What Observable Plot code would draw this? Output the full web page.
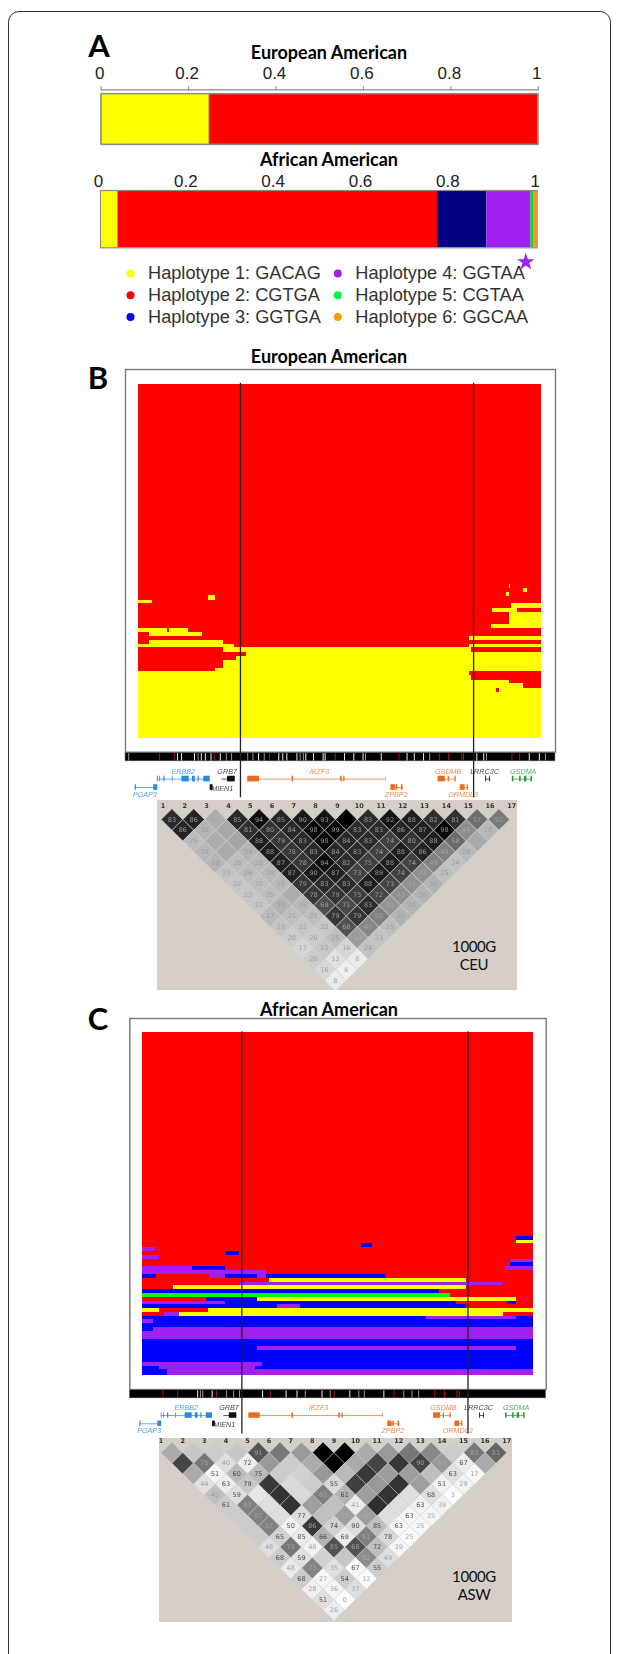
<!DOCTYPE html>
<html>
<head>
<meta charset="utf-8">
<script src="https://cdn.jsdelivr.net/npm/d3@7"></script>
<script src="https://cdn.jsdelivr.net/npm/@observablehq/plot@0.6"></script>
<style>
html,body{margin:0;padding:0;background:#fff;}
#page{position:relative;width:625px;height:1654px;overflow:hidden;background:#fff;}
#card{position:absolute;left:8px;top:11px;width:603px;height:1700px;border:1px solid #333;border-radius:11px;box-sizing:border-box;}
#page svg{position:absolute;background:transparent;max-width:none;}
.t{position:absolute;transform:translate(-50%,-50%);white-space:nowrap;color:#000;font-family:Lato,sans-serif;}
.title{font-weight:700;font-size:18px;}
.letter{font-weight:700;font-size:31px;}
.note{font-size:15px;color:#111;text-align:center;line-height:18px;letter-spacing:-.4px;}
</style>
</head>
<body>
<div id="page"><div id="card"></div></div>
<script>
// ---------- Panel A: haplotype frequencies ----------
const hapNames = ["Haplotype 1: GACAG","Haplotype 2: CGTGA","Haplotype 3: GGTGA","Haplotype 4: GGTAA","Haplotype 5: CGTAA","Haplotype 6: GGCAA"];
const hapDots  = ["#ffff00","#ff0000","#0000ff","#a020f0","#00ff40","#ff9900"];
const hapFills = ["#ffff00","#ff0000","#0000ff","#a020f0","#00ff00","#ff9900"];
const barFills = ["#ffff00","#ff0000","#000080","#a020f0","#00e020","#ff9900"];
const freqEur = [0.248,0.752];
const freqAfr = [0.04,0.732,0.113,0.101,0.007,0.007];
const freqTicks = [0,0.2,0.4,0.6,0.8,1];

// ---------- Panels B/C: sorted haplotype runs [rowFrom,rowTo,posFrom,posTo,haplotype], in % ----------
const runsEur = [
 [0,100,0,100,2],[74.5,100,0,100,1],
 [59.8,61.2,17.4,19.2,1],[61.2,62.1,0,3.6,1],[69.1,70.1,0,7.2,1],[69.1,70.1,7.8,12.6,1],[70.1,71.2,2.9,15.9,1],
 [72.3,73.6,2.9,21.1,1],[73.6,74.5,0,24,1],
 [74.5,75.8,0,21.2,2],[75.8,76.9,0,26.8,2],[76.9,78.1,0,24.4,2],[78.1,80.3,0,21.2,2],[80.3,81.3,0,19.2,2],
 [56.5,57.7,92,92.3,1],[58.8,59.9,91.3,92.1,1],[57.7,58.8,95.6,96.5,1],[62.1,63.3,92.7,100,1],[63.3,64.5,88,94.1,1],
 [64.5,68,92.1,100,1],[68,69.1,87.6,100,1],[71.3,72.3,82.2,100,1],[73.6,74.5,82.2,100,1],
 [74.5,75.7,82.8,100,2],[81.3,82.4,82.2,100,2],[82.4,83.6,82.6,100,2],[83.6,84.7,92.1,100,2],[84.7,86,95.6,100,2],[86,87.1,88.8,89.7,2]
];
const runsAfr = [
 [0,100,0,100,2],
 [61.4,62.6,56.1,58.9,3],[59.3,60.4,95.7,100,3],[60.4,61.4,95.7,100,1],[62.6,63.7,0,3.3,4],[63.7,64.8,21.3,24.9,3],[64.8,66,0,4.3,4],
 [66,67,94,100,4],[67,68.2,94,100,3],
 [68.2,69.4,0,12.8,4],[68.2,69.4,12.8,21.2,3],[68.2,69.4,92.8,100,4],[69.4,70.4,0,31.7,4],
 [70.4,71.5,0,3.7,3],[70.4,71.5,17.2,21.2,4],[70.4,71.5,21.2,29.3,3],[70.4,71.5,29.3,31.7,4],[70.4,71.5,31.7,62.5,3],
 [71.5,72.7,32.5,82.8,1],[72.7,73.7,25,92.3,4],[73.7,74.9,7.8,82.8,1],[74.9,76,0,76,3],[76,77.1,0,78.7,5],
 [77.1,78.2,16.4,29.5,3],[77.1,78.2,29.5,95.7,1],
 [78.2,79.3,0,21.3,4],[78.2,79.3,21.3,80.2,3],[78.2,79.3,93.4,95.6,3],
 [79.3,80.3,0,34.4,3],[79.3,80.3,34.4,40.4,4],[79.3,80.3,40.4,82.8,3],
 [80.3,81.5,0,4.3,1],[80.3,81.5,16.9,100,1],
 [81.5,82.7,5.5,9.5,4],[81.5,82.7,9.5,92.3,1],
 [82.7,83.7,0,72.6,3],[82.7,83.7,72.6,95.6,4],[82.7,83.7,95.6,100,3],
 [83.7,84.8,0,2.7,4],[83.7,84.8,2.7,100,3],[84.8,86,0,100,3],
 [86,87.2,0,2.7,3],[86,87.2,2.7,100,4],[87.2,89.4,0,100,4],[89.4,91.6,0,100,3],
 [91.6,92.7,0,29.4,3],[91.6,92.7,29.4,95.6,4],[91.6,92.7,95.6,100,3],[92.7,96,0,100,3],
 [96,97.2,0,30.6,4],[96,97.2,30.6,100,3],
 [97.2,98.2,0,4.3,3],[97.2,98.2,4.3,28.9,4],[97.2,98.2,28.9,100,3],
 [98.2,100,0,6.3,3],[98.2,100,6.3,100,4]
];
const blockEdges = [25.4,83.2];

// SNP density stripe positions
const snpRedEur  = [5.3,9.0,18.9,32.6,48.9,64.7,74.7,77,80.3,80.7,92.7,94.6];
const snpGrayEur = [-2.3,14.9,21.9,23.2,28.5,40.2,41,56.4,72.3,27.2,31.3,86.4,101];
const snpWhiteEur= [9.8,10.8,14,15.7,16.7,18.1,20.4,29.9,34.9,35.9,36.9,39.4,41.6,43.5,45.9,46.4,51.2,53.5,55.8,60.3,66.7,68.5,70.8,84,85.7,97,99.5];
const snpRedAfr  = [5.2,9,18.9,32.7,49,64.3,74.7,77.2,80.4,81];
const snpGrayAfr = [14.8,15.4,21.5,23.3,24.8,41.6,55.3,56.7,66.8,68.9,70.6,48];
const snpWhiteAfr= [14.1,17.8,30.7,36.7,39.5,45.9,53,61.7];

// Genes: name, span, track row, colour, label centre
const geneNames  = ["ERBB2","GRB7","IKZF3","GSDMB","LRRC3C","GSDMA","PGAP3","MIEN1","ZPBP2","ORMDL3"];
const geneStart  = [4.8,20.8,27.1,74.4,86.2,92.8,-0.7,17.9,62.7,79.7];
const geneEnd    = [17.9,24.1,61.6,79,87.4,97.8,4.9,18.6,65.8,82];
const geneRow    = [0,0,0,0,0,0,1,1,1,1];
const geneColors = ["#2a8ae0","#111111","#ee6a1e","#ee6a1e","#111111","#2f9a3a","#2a8ae0","#111111","#ee6a1e","#ee6a1e"];
const geneLabelX = [11.2,22.1,45,76.9,85.9,95.5,1.7,20.9,64,80.6];
const exonGene   = [0,0,0,0,0,0,0,0, 1, 2,2,2,2,2, 3,3,3, 4,4, 5,5,5,5, 6,6, 7, 8,8,8, 9,9];
const exonStart  = [4.8,5.4,6.4,8.5,10.9,13.5,14.9,16.3, 22.2, 27.2,38.2,50.2,51,61.5, 74.4,76.9,78.6, 86.2,87.2, 92.8,94.6,95.8,97.4, -0.7,3.9, 17.9, 62.7,64,65.3, 79.9,81.6];
const exonEnd    = [5,5.6,6.7,8.7,12.7,14.2,15.2,17.9, 24.1, 30.1,38.6,50.6,51.3,61.6, 76.2,77.2,78.9, 86.4,87.4, 93.2,95,96.4,97.8, -0.4,4.9, 18.6, 63.8,64.4,65.7, 81.1,81.9];

// ---------- LD triangles ----------
const snpLabels = d3.range(1,18);
const ldEur = [
 [83,86,32,85,94,85,90,93,100,83,92,88,82,81,57,52],
 [86,30,34,81,80,84,98,99,83,83,86,87,98,44,28],
 [26,32,35,88,79,83,98,84,83,74,80,88,58,33],
 [28,33,29,88,78,83,84,83,74,88,86,49,28],
 [29,26,28,87,78,94,82,75,88,74,49,24],
 [23,26,28,87,90,87,73,89,74,43,25],
 [22,25,28,79,83,83,88,73,43,30],
 [22,25,32,78,79,75,72,43,30],
 [22,30,28,69,71,83,42,30],
 [27,25,25,79,79,50,30],
 [23,22,22,68,47,25],
 [20,20,25,39,23],
 [17,22,16,24],
 [20,12,8],
 [16,6],
 [8]
];
const ldAfrShade = [
 [33,22,20,22,67,53,40,100,100,33,40,53,47,20,53,60],
 [73,53,13,7,40,20,33,100,33,73,78,73,40,7,33],
 [33,4,27,27,20,18,40,27,78,38,38,25,12,3],
 [12,7,22,78,15,20,15,75,40,80,38,5,5],
 [25,13,10,80,15,50,30,38,80,13,12,2],
 [20,50,13,80,38,25,7,82,13,5,5],
 [20,50,13,13,25,38,38,13,4,4],
 [20,50,5,78,18,13,25,3,3],
 [20,18,8,30,8,50,15,2],
 [13,53,5,68,68,25,4],
 [20,12,18,22,45,13],
 [8,48,12,2,20],
 [20,3,20,2],
 [6,4,13],
 [12,1],
 [7]
];
const ldAfrLabel = [
 [null,null,null,null,91,null,null,null,null,null,null,null,null,null,83,81],
 [null,75,40,72,null,null,null,null,null,null,null,90,93,67,60],
 [null,51,60,75,null,null,null,null,null,null,null,null,63,17],
 [44,63,79,null,null,null,55,null,null,null,76,51,29],
 [43,59,null,null,null,63,61,null,null,null,68,3],
 [61,87,null,null,78,null,41,null,null,63,39],
 [null,87,null,77,null,79,66,null,63,25],
 [null,87,50,86,74,90,85,63,25],
 [null,65,85,66,69,61,78,25],
 [48,75,48,85,68,72,39],
 [68,59,null,null,82,49],
 [48,73,35,67,55],
 [68,27,54,12],
 [28,36,37],
 [51,0],
 [26]
];

const page = document.getElementById("page");
const sans = "Liberation Sans, Arial, sans-serif";
function put(svg,left,top){svg.style.left=left+"px";svg.style.top=top+"px";page.appendChild(svg);return svg;}
function label(text,cls,x,y){const d=document.createElement("div");d.className="t "+cls;d.innerHTML=text;d.style.left=x+"px";d.style.top=y+"px";page.appendChild(d);}

// ---------- frequency bars ----------
function freqBar({values,left,right,top,barTop,barBottom,ruled,dx}){
  const rows=values.map((v,i)=>({hap:i,share:v}));
  const h=barBottom-top+2;
  return put(Plot.plot({
    width:625,height:h,marginLeft:left,marginRight:625-right,marginTop:barTop-top,marginBottom:2,
    style:{background:"transparent",overflow:"visible"},
    x:{domain:[0,1],axis:null,label:null},
    marks:[
      Plot.barX(rows,{x:"share",fill:d=>barFills[d.hap],stroke:ruled?"#8f8f60":"none",strokeWidth:.8}),
      Plot.frame({stroke:"#8a8a8a",strokeWidth:1.2}),
      ruled?Plot.frame({anchor:"top",dy:-4,stroke:"#8a8a8a",strokeWidth:1.2}):null,
      ruled?Plot.axisX(freqTicks,{anchor:"top",label:null,tickSize:4,dy:-4,fill:"none",stroke:"#8a8a8a",tickFormat:d=>String(d)}):null,
      Plot.axisX(freqTicks,{anchor:"top",label:null,tickSize:0,tickPadding:ruled?15:3,dx:dx,fontSize:17,fontFamily:sans,fill:"#222",tickFormat:d=>String(d)})
    ]
  }),0,top);
}
freqBar({values:freqEur,left:100.7,right:537.7,top:58,barTop:93.3,barBottom:144,ruled:true,dx:-1.5});
freqBar({values:freqAfr,left:100,right:536.7,top:165,barTop:190,barBottom:247.3,ruled:false,dx:-2});

// ---------- legend ----------
const legendRows=hapNames.map((name,i)=>({name,col:i<3?0:1,row:i%3,i}));
put(Plot.plot({
  width:625,height:80,margin:0,
  style:{background:"transparent",overflow:"visible"},
  x:{domain:[0,1],range:[130,337.3],axis:null},
  y:{domain:[0,2],range:[18,61.5],axis:null},
  marks:[
    Plot.dot(legendRows,{x:"col",y:"row",r:4,fill:d=>hapDots[d.i]}),
    Plot.text(legendRows,{x:"col",y:"row",text:"name",dx:17.5,textAnchor:"start",fontSize:18.2,fontFamily:sans,fill:"#333"}),
    Plot.dot(legendRows.filter(d=>d.i===3),{x:"col",y:"row",dx:188,dy:-11.5,r:5.5,symbol:"star",fill:"#a020f0"})
  ]
}),0,255);

// ---------- haplotype panel with stripe and gene track ----------
function haploPanel({runs,frameL,frameR,frameT,frameB,xDomain,snpRed,snpGray,snpWhite,yBottom}){
  const geneRows=geneNames.map((name,i)=>({name,start:geneStart[i],end:geneEnd[i],row:geneRow[i],color:geneColors[i],at:geneLabelX[i]}));
  const exons=exonGene.map((g,i)=>({color:geneColors[g],row:geneRow[g],start:exonStart[i],end:exonEnd[i]}));
  const geneY=[111.6,114],labelY=[109.4,116];
  const soft="blur(0.5px)";
  const below=48;
  const span=frameB-frameT;
  return put(Plot.plot({
    width:625,height:span+below+2,marginLeft:frameL,marginRight:625-frameR,marginTop:2,marginBottom:below,
    style:{background:"transparent",overflow:"visible"},
    x:{domain:xDomain,axis:null},
    y:{domain:[-4.2,104],reverse:true,axis:null},
    marks:[
      Plot.frame({stroke:"#777",strokeWidth:1.4,fill:"#fff"}),
      Plot.rect(runs,{x1:d=>d[2],x2:d=>d[3],y1:d=>d[0],y2:d=>d[1],fill:d=>hapFills[d[4]-1],shapeRendering:"crispEdges"}),
      Plot.rect([0],{x1:xDomain[0],x2:xDomain[1],y1:104.2,y2:106.6,fill:"#000",stroke:"#888",strokeWidth:.5}),
      Plot.ruleX(snpGray,{x:d=>d,y1:104.4,y2:106.5,stroke:"#999",strokeWidth:1}),
      Plot.ruleX(snpWhite,{x:d=>d,y1:104.4,y2:106.5,stroke:"#eee",strokeWidth:1}),
      Plot.ruleX(snpRed,{x:d=>d,y1:104.4,y2:106.5,stroke:"#b01010",strokeWidth:1}),
      Plot.ruleY(geneRows.filter(d=>d.name!=="MIEN1"),{x1:"start",x2:"end",y:d=>geneY[d.row],stroke:"color",strokeWidth:.9,strokeOpacity:.8}),
      Plot.rect(exons,{x1:"start",x2:"end",y1:d=>geneY[d.row]-.8,y2:d=>geneY[d.row]+.8,fill:"color",imageFilter:soft}),
      Plot.text(geneRows,{x:"at",y:d=>d.name==="MIEN1"?geneY[1]+.2:labelY[d.row],text:"name",fill:"color",fontSize:7.2,fontStyle:"italic",fontFamily:sans,fillOpacity:.8,imageFilter:soft}),
      Plot.ruleX(blockEdges,{x:d=>d,y1:-.3,y2:yBottom,stroke:"#222",strokeWidth:1.3})
    ]
  }),0,frameT-2);
}
haploPanel({runs:runsEur,frameL:125,frameR:555,frameT:369,frameB:751.7,xDomain:[-3.1,103.5],snpRed:snpRedEur,snpGray:snpGrayEur,snpWhite:snpWhiteEur,yBottom:116.9});
haploPanel({runs:runsAfr,frameL:129.3,frameR:545.7,frameT:1018.3,frameB:1389.3,xDomain:[-3.25,103.2],snpRed:snpRedAfr,snpGray:snpGrayAfr,snpWhite:snpWhiteAfr,yBottom:117});

// ---------- LD triangle ----------
function ldPanel({shade,labels,left,top,width,height,x1,x17,y1,y16,labelDy,labelDx}){
  const cells=[];
  shade.forEach((row,k)=>row.forEach((v,i)=>{
    const d=k+1;
    cells.push({pos:i+1+d/2,sep:d,shade:v,text:labels?labels[k][i]:(v===100?null:v)});
  }));
  const diamond={draw(ctx,size){const r=Math.sqrt(size/Math.PI);ctx.moveTo(0,-r);ctx.lineTo(r,0);ctx.lineTo(0,r);ctx.lineTo(-r,0);ctx.closePath();}};
  return put(Plot.plot({
    width,height,margin:0,
    style:{background:"#d5cfc8",overflow:"hidden"},
    x:{domain:[1,17],range:[x1-left,x17-left],axis:null},
    y:{domain:[1,16],range:[y1-top,y16-top],axis:null},
    color:{type:"linear",domain:[0,100],range:["#ffffff","#000000"]},
    marks:[
      Plot.dot(cells,{x:"pos",y:"sep",r:10.7,symbol:diamond,fill:"shade",stroke:"#d0d0d0",strokeWidth:.5,imageFilter:"blur(0.5px)"}),
      Plot.text(cells.filter(d=>d.text!==null),{x:"pos",y:"sep",text:d=>String(d.text),fontSize:6.5,fontFamily:"DejaVu Sans",
        fill:d=>d.shade>30?"#a8a8a8":(labels&&d.text>=50?"#333":"#999"),fillOpacity:.85,imageFilter:"blur(0.45px)"}),
      Plot.text(snpLabels,{x:d=>d,frameAnchor:"top",dy:labelDy,dx:labelDx,text:d=>String(d),fontSize:6.5,fontWeight:"bold",fontFamily:"DejaVu Sans",fill:"#333",imageFilter:"blur(0.3px)"})
    ]
  }),left,top);
}
ldPanel({shade:ldEur,left:157.3,top:800,width:359.4,height:190,x1:160.8,x17:509.6,y1:819,y16:980,labelDy:3,labelDx:2});
ldPanel({shade:ldAfrShade,labels:ldAfrLabel,left:159.3,top:1437.7,width:353,height:184,x1:160.9,x17:506.5,y1:1452,y16:1609.3,labelDy:0,labelDx:0});

// ---------- titles ----------
label("A","letter",99,45);
label("B","letter",98,377);
label("C","letter",98,1018);
label("European American","title",329,52);
label("African American","title",329,159);
label("European American","title",329,356);
label("African American","title",329,1009);
label("1000G<br>CEU","note",474,955);
label("1000G<br>ASW","note",474,1585);
</script>
</body>
</html>
